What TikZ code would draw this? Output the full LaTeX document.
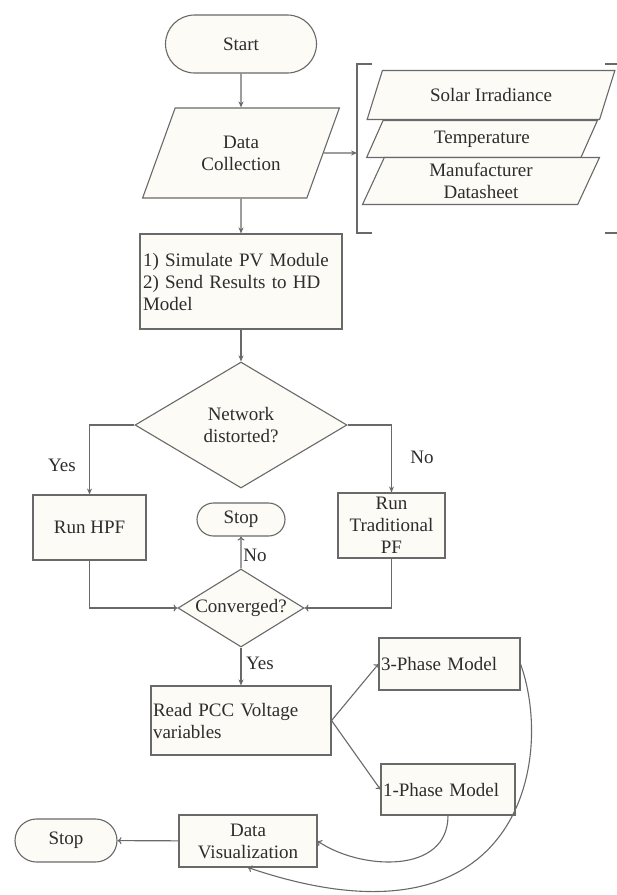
\documentclass[tikz,border=0pt]{standalone}
\usepackage{fontspec}
\setmainfont{Liberation Serif}
\usetikzlibrary{shapes.geometric,shapes.misc,arrows.meta}
\definecolor{linegray}{RGB}{105,105,105}
\definecolor{textgray}{RGB}{45,45,45}
\definecolor{boxfill}{RGB}{253,251,246}

\begin{document}
\begin{tikzpicture}[x=1pt,y=-1pt,
	every node/.style={font=\fontsize{19}{22}\selectfont,text=textgray},
	base/.style={draw=linegray,line width=1.1pt,fill=boxfill,inner sep=2pt},
	term/.style={base,rounded rectangle},
	proc/.style={base,rectangle},
	para/.style={base,trapezium,trapezium left angle=#1,trapezium right angle=180-#1,trapezium stretches=true},
	para/.default=63,
	decide/.style={base,diamond,aspect=2,inner sep=0pt},
	line/.style={draw=linegray,line width=1.1pt},
	arr/.style={line,-{Stealth[length=6pt,width=5pt]}},
	arro/.style={line,-{To[length=4pt,width=7pt]}}]
	\useasboundingbox (0,0) rectangle (617,895);
	\node[term,minimum width=155pt,minimum height=58pt] (start) at (241,44) {Start};
	\node[para=62,minimum width=197pt,minimum height=90pt,align=center] (dc) at (241,153) {Data\\Collection};
	\node[para=63,minimum width=248pt,minimum height=49pt] (sol) at (491,95) {Solar Irradiance};
	\node[para=68,minimum width=231pt,minimum height=37pt] (tmp) at (482,139) {Temperature};
	\node[para=73,minimum width=237pt,minimum height=47pt,align=center] (man) at (481,181) {Manufacturer\\Datasheet};
	\draw[line] (372,64) -- (357,64) -- (357,233) -- (372,233);
	\draw[line] (605,64) -- (617,64);
	\draw[line] (605,233) -- (617,233);
	\coordinate (brk) at (357,153);
	\node[proc,minimum width=202pt,minimum height=95pt,text width=196pt,align=left] (sim) at (241,281.5) {1) Simulate PV Module\\2) Send Results to HD\\Model};
	\node[decide,minimum width=212pt,minimum height=126pt,align=center] (net) at (241,425) {Network\\distorted?};
	\node[proc,minimum width=113pt,minimum height=65pt] (hpf) at (89.5,527.5) {Run HPF};
	\node[proc,minimum width=107pt,minimum height=65pt,inner ysep=0pt,align=center] (trad) at (391.5,525.5) {Run\\Traditional\\PF};
	\node[term,minimum width=88pt,minimum height=33pt,inner sep=0pt] (stop1) at (241,519.5) {Stop};
	\node[decide,minimum width=125pt,minimum height=78pt] (conv) at (241,608) {Converged?};
	\node[proc,minimum width=180pt,minimum height=69pt,text width=176pt,align=left] (pcc) at (241,720.5) {Read PCC Voltage\\variables};
	\node[proc,minimum width=139pt,minimum height=52pt,text width=137pt,align=left] (ph3) at (449.5,664) {3-Phase Model};
	\node[proc,minimum width=132pt,minimum height=51pt,text width=130pt,align=left] (ph1) at (448,789.5) {1-Phase Model};
	\node[proc,minimum width=138pt,minimum height=52pt,inner sep=0pt,align=center] (vis) at (248,841) {Data\\Visualization};
	\node[term,minimum width=106pt,minimum height=43pt] (stop2) at (66,840.5) {Stop};
	\node (yes1) at (62,465) {Yes};
	\node (no1) at (422,457) {No};
	\node (no2) at (255,555) {No};
	\node (yes2) at (260,663) {Yes};
	\draw[arr] (start) to (dc);
	\draw[arr] (dc.east) to (brk);
	\draw[arr] (dc) to (sim);
	\draw[arr] (sim) to (net);
	\draw[arr] (net.west) -| (hpf.north);
	\draw[arr] (net.east) -| (trad.north);
	\draw[arro] (hpf.south) |- (conv.west);
	\draw[arro] (trad.south) |- (conv.east);
	\draw[arro] (conv) to (stop1);
	\draw[arr] (conv) to (pcc);
	\draw[arro] (pcc.east) to (ph3.west);
	\draw[arro] (pcc.east) to (ph1.west);
	\draw[arro] (ph1.south) .. controls (448,875) and (360,870) .. (vis.east);
	\draw[arro] (ph3.east) .. controls (555,760) and (520,960) .. (vis.south);
	\draw[arro] (vis) to (stop2);
\end{tikzpicture}
\end{document}
